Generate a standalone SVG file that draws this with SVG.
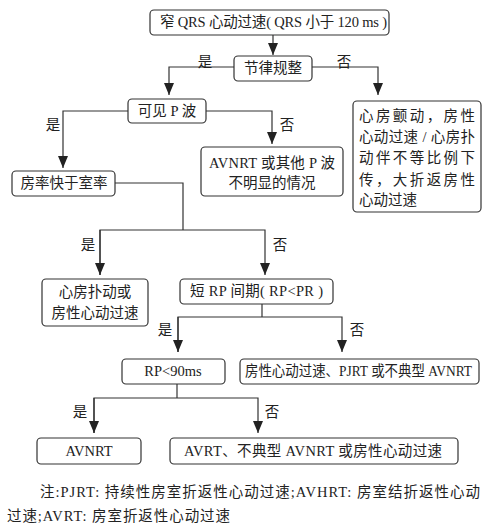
<svg xmlns="http://www.w3.org/2000/svg" width="492" height="528" viewBox="0 0 492 528">
<style>
.box{fill:#fff;stroke:#333;stroke-width:1.2}
.ln{fill:none;stroke:#333;stroke-width:1.2}
text{font-family:"Liberation Serif","Noto Sans CJK SC",serif;font-size:14.5px;fill:#222}
.c{text-anchor:middle}
</style>
<defs>
<marker id="ah" markerUnits="userSpaceOnUse" markerWidth="10" markerHeight="12" refX="5" refY="12" orient="0" viewBox="0 0 10 12">
<path d="M0,0 L10,0 L5,12 z" fill="#222"/>
</marker>
</defs>
<rect width="492" height="528" fill="#fff"/>
<g id="connectors">
<path class="ln" d="M273,35 V55" marker-end="url(#ah)"/>
<path class="ln" d="M234,67 H169 V95" marker-end="url(#ah)"/>
<path class="ln" d="M312,67 H378 V95" marker-end="url(#ah)"/>
<path class="ln" d="M128,111 H63 V168" marker-end="url(#ah)"/>
<path class="ln" d="M206,111 H272 V144" marker-end="url(#ah)"/>
<path class="ln" d="M115,183 H183 V230"/>
<path class="ln" d="M100,275 V230 H265 V275" marker-end="url(#ah)"/>
<path class="ln" d="M100,230 V275" marker-end="url(#ah)"/>
<path class="ln" d="M262,304 V317"/>
<path class="ln" d="M178,352 V317 H342 V352" marker-end="url(#ah)"/>
<path class="ln" d="M178,317 V352" marker-end="url(#ah)"/>
<path class="ln" d="M177,384 V398"/>
<path class="ln" d="M94,433 V398 H258 V433" marker-end="url(#ah)"/>
<path class="ln" d="M94,398 V433" marker-end="url(#ah)"/>
<text x="205" y="67" class="c">是</text>
<text x="344" y="67" class="c">否</text>
<text x="53" y="130" class="c">是</text>
<text x="287" y="130" class="c">否</text>
<text x="88" y="250" class="c">是</text>
<text x="280" y="250" class="c">否</text>
<text x="165" y="335" class="c">是</text>
<text x="357" y="335" class="c">否</text>
<text x="80" y="417" class="c">是</text>
<text x="272" y="417" class="c">否</text>
</g>
<g id="n1">
<rect class="box" x="150" y="10" width="239" height="25" rx="4"/>
<text x="160" y="27" textLength="227" lengthAdjust="spacing">窄 QRS 心动过速( QRS 小于 120 ms )</text>
</g>
<g id="n2">
<rect class="box" x="234" y="56" width="78" height="25" rx="4"/>
<text x="273" y="73" class="c">节律规整</text>
</g>
<g id="n3">
<rect class="box" x="128" y="99" width="78" height="24" rx="4"/>
<text x="167" y="116" class="c">可见 P 波</text>
</g>
<g id="n4">
<rect class="box" x="353" y="101" width="128" height="111" rx="4"/>
<text x="359" y="121" textLength="116" lengthAdjust="spacing">心房颤动，房性</text>
<text x="359" y="142" textLength="116" lengthAdjust="spacing">心动过速 / 心房扑</text>
<text x="359" y="163" textLength="116" lengthAdjust="spacing">动伴不等比例下</text>
<text x="359" y="185" textLength="116" lengthAdjust="spacing">传，大折返房性</text>
<text x="359" y="205">心动过速</text>
</g>
<g id="n5">
<rect class="box" x="201" y="147" width="142" height="49" rx="4"/>
<text x="209" y="168" textLength="126" lengthAdjust="spacing">AVNRT 或其他 P 波</text>
<text x="272" y="188" class="c">不明显的情况</text>
</g>
<g id="n6">
<rect class="box" x="12" y="171" width="103" height="25" rx="4"/>
<text x="64" y="188" class="c">房率快于室率</text>
</g>
<g id="n7">
<rect class="box" x="42" y="279" width="106" height="47" rx="4"/>
<text x="95" y="297" class="c">心房扑动或</text>
<text x="95" y="318" class="c">房性心动过速</text>
</g>
<g id="n8">
<rect class="box" x="180" y="279" width="153" height="25" rx="4"/>
<text x="190" y="296" textLength="133" lengthAdjust="spacing">短 RP 间期( RP&lt;PR )</text>
</g>
<g id="n9">
<rect class="box" x="122" y="359" width="103" height="25" rx="4"/>
<text x="173" y="376" class="c">RP&lt;90ms</text>
</g>
<g id="n10">
<rect class="box" x="240" y="359" width="239" height="25" rx="4"/>
<text x="245" y="376" textLength="227" lengthAdjust="spacingAndGlyphs">房性心动过速、PJRT 或不典型 AVNRT</text>
</g>
<g id="n11">
<rect class="box" x="37" y="438" width="104" height="26" rx="4"/>
<text x="89" y="456" class="c">AVNRT</text>
</g>
<g id="n12">
<rect class="box" x="170" y="438" width="288" height="26" rx="4"/>
<text x="184" y="456" textLength="258" lengthAdjust="spacing">AVRT、不典型 AVNRT 或房性心动过速</text>
</g>
<g id="note">
<text x="40" y="497" textLength="440" lengthAdjust="spacing">注:PJRT: 持续性房室折返性心动过速;AVHRT: 房室结折返性心动</text>
<text x="7" y="521" textLength="223" lengthAdjust="spacing">过速;AVRT: 房室折返性心动过速</text>
</g>
</svg>
